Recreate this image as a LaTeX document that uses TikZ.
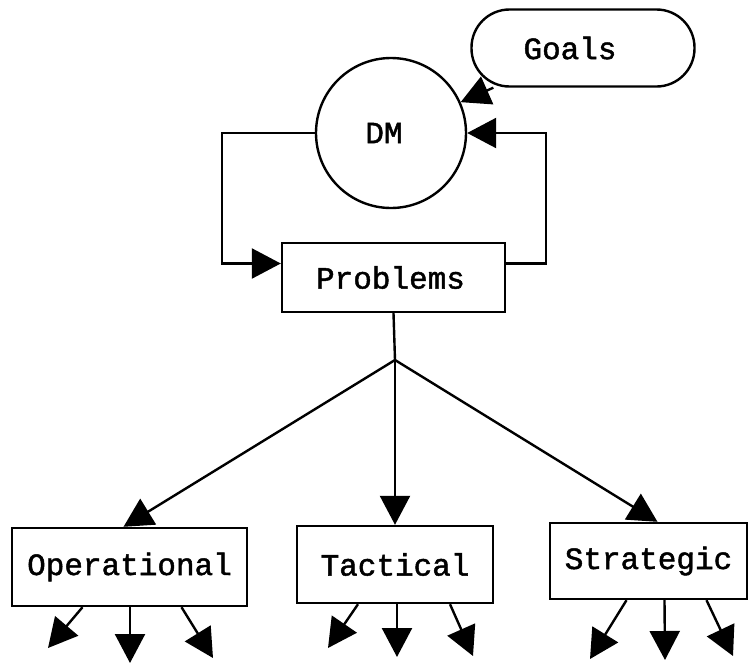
\documentclass[tikz,border=0pt]{standalone}
\usepackage{fontspec}
\newfontfamily\cour[FakeBold=1.5]{Liberation Mono}
\usetikzlibrary{arrows.meta}
\begin{document}
\begin{tikzpicture}[x=1pt,y=-1pt,
  line width=2.4pt,
  every node/.style={font=\cour\fontsize{31}{36}\selectfont, inner sep=0pt},
  box/.style={draw, rectangle},
  arr/.style={-{Triangle[length=29pt,width=30pt]}}]
\useasboundingbox (0,0) rectangle (750,664);
% nodes
\node[draw, rounded corners=38pt, minimum width=223pt, minimum height=77pt] (goals) at (583,48) {Goals\hspace*{26pt}};
\node[draw, circle, minimum size=150pt] (dm) at (391,133) {DM\hspace*{14pt}};
\node[box, minimum width=223pt, minimum height=69pt] (prob) at (393.5,277.5) {Problems\hspace*{6pt}};
\node[box, minimum width=235pt, minimum height=78pt] (op) at (129.5,567) {Operational};
\node[box, minimum width=196pt, minimum height=77pt] (tac) at (395,564.5) {Tactical};
\node[box, minimum width=197pt, minimum height=76pt] (str) at (648.5,561) {Strategic};
% helper coordinates
\coordinate (lc) at (222,200);
\coordinate (rc) at (546,200);
\coordinate (j) at (395,360);
\coordinate (o1) at (48,648);
\coordinate (o2) at (130,663);
\coordinate (o3) at (213,658);
\coordinate (t1) at (328,648);
\coordinate (t2) at (397,657);
\coordinate (t3) at (473,656);
\coordinate (s1) at (590,659);
\coordinate (s2) at (665,660);
\coordinate (s3) at (733,656);
% connectors
\draw[arr] (goals) -- (dm);
\draw[arr] (dm.west) -| (lc) |- ([yshift=14pt]prob.west);
\draw[arr] ([yshift=14pt]prob.east) -| (rc) |- (dm.east);
\draw (prob.south) -- (j);
\draw[arr] (j) -- ([xshift=-6pt]op.north);
\draw[arr] (j) -- (tac.north);
\draw[arr] (j) -- ([xshift=9pt]str.north);
% outgoing arrows
\draw[arr] ([xshift=-47pt]op.south) -- (o1);
\draw[arr] ([xshift=0.5pt]op.south) -- (o2);
\draw[arr] ([xshift=52pt]op.south) -- (o3);
\draw[arr] ([xshift=-37pt]tac.south) -- (t1);
\draw[arr] ([xshift=2pt]tac.south) -- (t2);
\draw[arr] ([xshift=55pt]tac.south) -- (t3);
\draw[arr] ([xshift=-22pt]str.south) -- (s1);
\draw[arr] ([xshift=16pt]str.south) -- (s2);
\draw[arr] ([xshift=58pt]str.south) -- (s3);
\end{tikzpicture}
\end{document}
